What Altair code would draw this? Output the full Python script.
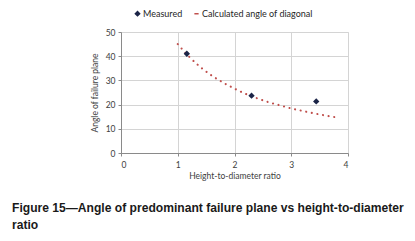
import altair as alt
import pandas as pd

measured_x = [1.16, 2.30, 3.44]
measured_y = [41.0, 23.7, 21.3]
calc_x = [1.0, 1.2, 1.4, 1.6, 1.8, 2.0, 2.2, 2.4, 2.6, 2.8, 3.0, 3.2, 3.4, 3.6, 3.8]
calc_y = [45.0, 39.8, 35.5, 32.0, 29.1, 26.6, 24.4, 22.6, 21.0, 19.7, 18.4, 17.4, 16.4, 15.5, 14.7]
series = ["Measured", "Calculated angle of diagonal"]
x_ticks = [0, 1, 2, 3, 4]
y_ticks = [0, 10, 20, 30, 40, 50]

df_m = pd.DataFrame({"x": measured_x, "y": measured_y, "s": series[0]})
df_c = pd.DataFrame({"x": calc_x, "y": calc_y, "s": series[1]})

FONT = "Lato"
xs = alt.Scale(domain=[0, 4], nice=False)
ys = alt.Scale(domain=[0, 50], nice=False)
xax = alt.Axis(values=x_ticks, title="Height-to-diameter ratio", titleFontWeight="normal",
               titleFontSize=8.5, titleColor="#404040", titlePadding=3,
               labelFontSize=8.5, labelColor="#404040", labelPadding=4,
               domainColor="#8a8a8a", tickColor="#8a8a8a", tickSize=3,
               gridColor="#d4d4d4", labelFont=FONT, titleFont=FONT)
yax = alt.Axis(values=y_ticks, title="Angle of failure plane", titleFontWeight="normal",
               titleFontSize=8.5, titleColor="#404040", titlePadding=6,
               labelFontSize=8.5, labelColor="#404040", labelPadding=3,
               domainColor="#8a8a8a", tickColor="#8a8a8a", tickSize=3,
               gridColor="#d4d4d4", labelFont=FONT, titleFont=FONT)

leg = dict(title=None, orient="none", legendX=12, legendY=-23,
           direction="horizontal", labelFontSize=9, labelFont=FONT,
           labelColor="#262626", symbolSize=18, columnPadding=8,
           labelOffset=1, symbolStrokeWidth=1.5)
color = alt.Color("s:N", scale=alt.Scale(domain=series, range=["#1b2447", "#c0504d"]),
                  legend=alt.Legend(**leg))
shape = alt.Shape("s:N", scale=alt.Scale(domain=series, range=["diamond", "stroke"]),
                  legend=alt.Legend(**leg))

line = alt.Chart(df_c).mark_line(strokeDash=[0.1, 5.6], strokeCap="round", strokeWidth=2.1,
                                 interpolate="monotone").encode(
    x=alt.X("x:Q", scale=xs, axis=xax),
    y=alt.Y("y:Q", scale=ys, axis=yax),
    color=color,
)
pts = alt.Chart(df_m).mark_point(filled=True, size=40, opacity=1).encode(
    x=alt.X("x:Q", scale=xs, axis=xax),
    y=alt.Y("y:Q", scale=ys, axis=yax),
    color=color,
    shape=shape,
)

chart = alt.layer(line, pts).properties(
    width=227, height=121,
    autosize=alt.AutoSizeParams(type="none"),
    padding={"left": 113, "top": 24, "right": 58, "bottom": 80},
    title=alt.TitleParams(
        ["Figure 15\u2014Angle of predominant failure plane vs height-to-diameter", "ratio"],
        orient="bottom", anchor="start", frame="group", dx=-109, offset=22,
        font="Liberation Sans", fontSize=12.1, fontWeight="bold", color="#1a1a1a",
        lineHeight=17),
).configure_view(stroke=None).configure(background="white")

chart.save("out.html", embed_options={"renderer": "svg", "actions": False})
